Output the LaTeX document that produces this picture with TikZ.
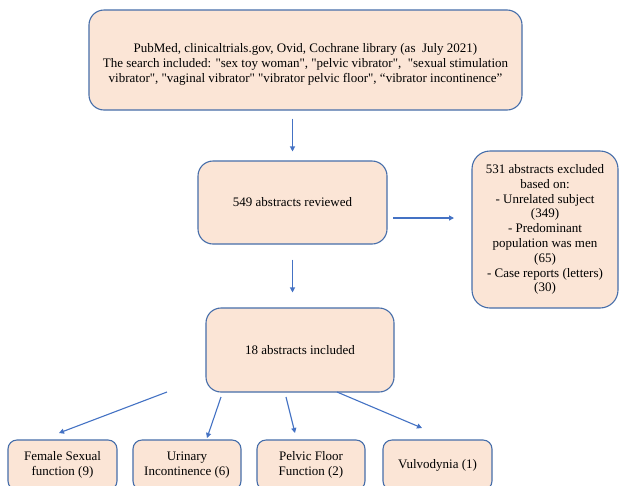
\documentclass[tikz,border=0pt]{standalone}
\usepackage{fontspec}
\setmainfont{Liberation Serif}
\newfontfamily\tnr{Liberation Serif}
\usetikzlibrary{arrows.meta,calc}
\definecolor{boxfill}{RGB}{251,229,214}
\definecolor{boxline}{RGB}{70,110,170}
\definecolor{arrblue}{RGB}{68,114,196}
\tikzset{
  box/.style={draw=boxline, fill=boxfill, line width=1.1pt, rounded corners=15pt, align=center, inner sep=2pt, font=\tnr\fontsize{13}{14.8}\selectfont},
  smallbox/.style={box, rounded corners=9pt},
  arr/.style={draw=arrblue, line width=1.1pt, -{Triangle[length=5pt,width=5pt]}}
}
\begin{document}
\begin{tikzpicture}[x=1pt,y=-1pt]
\useasboundingbox (0,0) rectangle (620,485);
\clip (0,0) rectangle (620,485);
\fill[white] (0,0) rectangle (620,485);
\node[box, minimum width=433pt, minimum height=100pt, font=\tnr\fontsize{13}{15}\selectfont] (b1) at (305.5,60)
  {\rule{0pt}{17.5pt}PubMed, clinicaltrials.gov, Ovid, Cochrane library (as\ \ July 2021)\\
   The search included: "sex toy woman", "pelvic vibrator",\ \ "sexual stimulation\\
   vibrator", "vaginal vibrator" "vibrator pelvic floor", “vibrator incontinence”};
\node[box, minimum width=189pt, minimum height=83pt] (b2) at (292.5,202.5) {549 abstracts reviewed};
\node[box, minimum width=188pt, minimum height=84pt] (b3) at (300,350) {18 abstracts included};
\node[box, minimum width=146pt, minimum height=157pt, rounded corners=18pt] (b4) at (545,229.5)
  {531 abstracts excluded\\ based on:\\ - Unrelated subject\\ (349)\\ - Predominant\\ population was men\\ (65)\\ - Case reports (letters)\\ (30)};
\node[smallbox, minimum width=109pt, minimum height=50pt] (fa) at (62.5,465) {Female Sexual\\ function (9)};
\node[smallbox, minimum width=108pt, minimum height=50pt] (fb) at (187,465) {Urinary\\ Incontinence (6)};
\node[smallbox, minimum width=108pt, minimum height=50pt] (fc) at (311,465) {Pelvic Floor\\ Function (2)};
\node[smallbox, minimum width=109pt, minimum height=50pt] (fd) at (437.5,465) {Vulvodynia (1)};

\draw[arr, shorten <=8pt, shorten >=9pt] (b2.north |- b1.south) -- (b2.north);
\coordinate (rs) at (393,218);
\coordinate (re) at (454,218);
\draw[arr] (rs) -- (re);
\draw[arr, shorten <=15pt, shorten >=15pt] (b2.south) -- (b2.south |- b3.north);

\coordinate (as) at (167,392); \coordinate (ae) at (59,433);
\coordinate (bs) at (221,397); \coordinate (be) at (207,438);
\coordinate (cs) at (286,397); \coordinate (ce) at (295,433);
\coordinate (ds) at (337,392); \coordinate (de) at (422,428);
\draw[arr] (as) -- (ae);
\draw[arr] (bs) -- (be);
\draw[arr] (cs) -- (ce);
\draw[arr] (ds) -- (de);
\end{tikzpicture}
\end{document}
